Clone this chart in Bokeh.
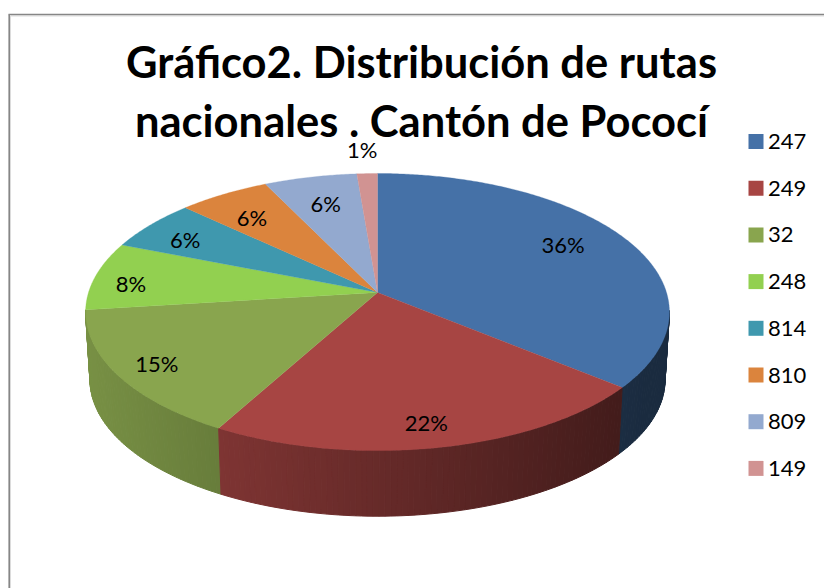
import math
from bokeh.plotting import figure
from bokeh.models import Range1d
from bokeh.core.properties import value
from bokeh.embed import file_html
from bokeh.resources import INLINE

# ---- data ----
categories = ["247", "249", "32", "248", "814", "810", "809", "149"]
values = [36.0, 22.0, 15.0, 8.0, 6.0, 5.8, 5.9, 1.3]
percent_labels = ["36%", "22%", "15%", "8%", "6%", "6%", "6%", "1%"]
title_lines = ["Gráfico2. Distribución de rutas", "nacionales . Cantón de Pococí"]
top_colors = ["#4571A7", "#A74543", "#89A54E", "#92D050", "#3F98AE", "#DB843D", "#93A9CF", "#D19392"]

# ---- label placement (style, not data) ----
label_radii = [0.75, 0.86, 0.86, 0.87, 0.82, 0.80, 0.75, 1.21]
label_dx = [-2, -4, 0, -1, -4, 0, 0, -3]
label_dy = [-7, 0, 1, 6, 3, 5, 0, -3]

# ---- projection of the pie ----
CX, CY, A, B, K = 377.0, 292.0, 289.0, 135.8, 0.141
DROP, SHRINK = 68.0, 0.985
FONT = "Lato"


def project(theta, r=1.0, drop=0.0, scale=1.0):
    u, v = r * math.sin(theta), r * math.cos(theta)
    d = 1 + K * v
    return CX + scale * A * u / d, CY + drop + scale * B * (-v) / d


def shade(hex_color, f):
    rgb = [int(hex_color[i:i + 2], 16) for i in (1, 3, 5)]
    return "#%02x%02x%02x" % tuple(int(round(c * f)) for c in rgb)


def brightness(x):
    return max(0.38, min(0.88, 0.87 - (x - 90) * 0.47 / 530))


p = figure(width=824, height=588, output_backend="svg", toolbar_location=None,
           x_range=Range1d(0, 824), y_range=Range1d(588, 0),
           min_border=0, outline_line_color=None, background_fill_color="white")
p.axis.visible = False
p.grid.visible = False

# chart frame
p.line([10, 10], [588, 15.5], line_color="#dcdcdc", line_width=1)
p.line([10, 824], [15.5, 15.5], line_color="#dcdcdc", line_width=1)
p.line([8.7, 8.7], [588, 14], line_color="#868686", line_width=1.6)
p.line([8, 824], [14, 14], line_color="#868686", line_width=1.6)

total = sum(values)
bounds = [0.0]
for val in values:
    bounds.append(bounds[-1] + val / total * 2 * math.pi)

# side wall: strips, only the part facing the viewer
strips = []
for i, col in enumerate(top_colors):
    t0, t1 = bounds[i], bounds[i + 1]
    n = max(2, int((t1 - t0) / math.radians(1.0)))
    for j in range(n):
        a0 = t0 + (t1 - t0) * j / n
        a1 = t0 + (t1 - t0) * (j + 1) / n
        if math.cos((a0 + a1) / 2) > -0.13:
            continue
        x0, y0 = project(a0)
        x1, y1 = project(a1)
        x2, y2 = project(a1, drop=DROP, scale=SHRINK)
        x3, y3 = project(a0, drop=DROP, scale=SHRINK)
        strips.append(((y0 + y1) / 2, [x0, x1, x2, x3], [y0, y1, y2, y3],
                       shade(col, brightness((x0 + x1) / 2))))
strips.sort(key=lambda s: s[0])
sc = [s[3] for s in strips]
p.patches([s[1] for s in strips], [s[2] for s in strips],
          fill_color=sc, line_color=sc, line_width=1.0)

# top face
tx, ty = [], []
for i in range(len(values)):
    t0, t1 = bounds[i], bounds[i + 1]
    n = max(8, int((t1 - t0) / math.radians(0.5)))
    xs, ys = [CX], [CY]
    for j in range(n + 1):
        x, y = project(t0 + (t1 - t0) * j / n)
        xs.append(x)
        ys.append(y)
    tx.append(xs)
    ty.append(ys)
p.patches(tx, ty, fill_color=top_colors, line_color=top_colors, line_width=0.3)

# percent labels
lx, ly = [], []
for i in range(len(values)):
    x, y = project((bounds[i] + bounds[i + 1]) / 2, r=label_radii[i])
    lx.append(x + label_dx[i])
    ly.append(y + label_dy[i])
p.text(lx, ly, text=percent_labels, text_align="center", text_baseline="middle",
       text_font=value(FONT), text_font_size="22px", text_color="#000000")

# title
p.text([421, 421], [60, 119], text=title_lines, text_align="center", text_baseline="middle",
       text_font=value(FONT), text_font_style="bold", text_font_size="43.5px", text_color="#000000")

# legend
rows = [141 + 46.7 * i for i in range(len(categories))]
p.rect([755.5] * len(rows), rows, width=15, height=15, fill_color=top_colors, line_color=None)
p.text([767.5] * len(rows), rows, text=categories, text_align="left", text_baseline="middle",
       text_font=value(FONT), text_font_size="22px", text_color="#000000")

open("out.html", "w").write(file_html(p, INLINE))
